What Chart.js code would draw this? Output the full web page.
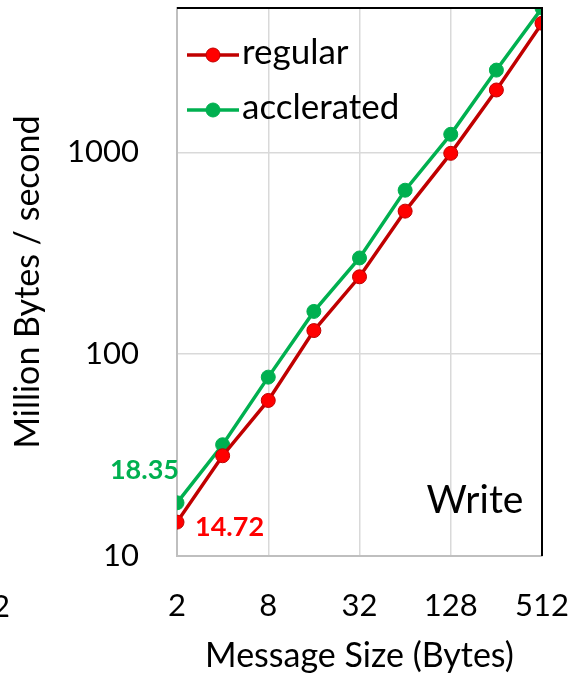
<!DOCTYPE html>
<html>
<head>
<meta charset="utf-8">
<script src="https://cdn.jsdelivr.net/npm/chart.js@4"></script>
<style>
  html, body { margin: 0; padding: 0; background: #fff; }
  #wrap { width: 572px; height: 678px; }
</style>
</head>
<body>
<div id="wrap"><canvas id="myChart" width="572" height="678"></canvas></div>
<script>
const sizes = [2, 4, 8, 16, 32, 64, 128, 256, 512]
const regular = [14.72, 31.4, 59, 131, 242, 512, 990, 2040, 4370]
const accelerated = [18.35, 35.6, 77, 163, 300, 650, 1230, 2560, 5200]
const xTicks = [2, 8, 32, 128, 512]
const yTicks = [10, 100, 1000]

const FONT = "Lato, 'Open Sans', sans-serif"
const ctx = document.getElementById('myChart')

// extra text: legend, data labels, "Write", frame
const extras = {
  id: 'extras',
  afterDatasetsDraw(chart) {
    const c = chart.ctx
    const a = chart.chartArea
    c.save()
    // frame: top and right in black
    c.strokeStyle = '#000'
    c.lineWidth = 2
    c.beginPath()
    c.moveTo(a.left, a.top)
    c.lineTo(a.right, a.top)
    c.lineTo(a.right, a.bottom)
    c.stroke()

    // legend
    const items = [
      { label: 'regular', line: '#C00000', fill: '#FF0000', y: 55 },
      { label: 'acclerated', line: '#00B050', fill: '#00B050', y: 110 }
    ]
    items.forEach(it => {
      c.strokeStyle = it.line
      c.lineWidth = 3.5
      c.beginPath()
      c.moveTo(a.left + 10, it.y)
      c.lineTo(a.left + 62, it.y)
      c.stroke()
      c.fillStyle = it.fill
      c.beginPath()
      c.arc(a.left + 36, it.y, 7, 0, Math.PI * 2)
      c.fill()
      c.lineWidth = 1
      c.stroke()
      c.fillStyle = '#000'
      c.font = "35px " + FONT
      c.textBaseline = 'middle'
      c.textAlign = 'left'
      c.fillText(it.label, a.left + 65, it.y - 2)
    })

    // data labels on first points
    const p0 = chart.getDatasetMeta(0).data[0]
    const p1 = chart.getDatasetMeta(1).data[0]
    c.font = "bold 27px " + FONT
    c.fillStyle = '#FF0000'
    c.textAlign = 'left'
    c.fillText('14.72', p0.x + 18, p0.y + 5)
    c.fillStyle = '#00B050'
    c.textAlign = 'right'
    c.fillText('18.35', p1.x + 2, p1.y - 33)

    // panel name
    c.fillStyle = '#000'
    c.font = "39px " + FONT
    c.textAlign = 'center'
    c.fillText('Write', 475, 500)

    // clipped label from neighbouring panel
    c.font = "31px " + FONT
    c.textAlign = 'left'
    c.fillText('2', -8, 607)
    c.restore()
  }
}

const zeroPad = (s) => { s.paddingTop = 0; s.paddingBottom = 0; s.paddingLeft = 0; s.paddingRight = 0 }

const config = {
  type: 'line',
  data: {
    labels: sizes,
    datasets: [{
      label: 'regular',
      data: regular,
      borderColor: '#C00000',
      backgroundColor: '#FF0000',
      pointBorderColor: '#C00000',
      borderWidth: 3.5,
      pointRadius: 7,
      pointBorderWidth: 1
    }, {
      label: 'acclerated',
      data: accelerated,
      borderColor: '#00B050',
      backgroundColor: '#00B050',
      pointBorderColor: '#00B050',
      borderWidth: 3.5,
      pointRadius: 7,
      pointBorderWidth: 1
    }]
  },
  options: {
    responsive: false,
    animation: false,
    layout: { padding: { top: 7, right: 30, left: 0, bottom: 0 } },
    scales: {
      x: {
        type: 'logarithmic',
        min: 2,
        max: 512,
        afterBuildTicks: (s) => { s.ticks = xTicks.map(v => ({ value: v })) },
        afterFit: (s) => { s.height = 122; zeroPad(s) },
        ticks: {
          color: '#000',
          font: { family: FONT, size: 31 },
          padding: 31,
          maxRotation: 0,
          callback: (v) => String(v)
        },
        grid: { color: '#D9D9D9', lineWidth: 1.5, drawTicks: false },
        border: { color: '#BFBFBF', width: 2 },
        title: {
          display: true,
          text: 'Message Size (Bytes)',
          color: '#000',
          font: { family: FONT, size: 34 },
          padding: { top: 4, bottom: 2 }
        }
      },
      y: {
        type: 'logarithmic',
        min: 10,
        max: 5200,
        afterBuildTicks: (s) => { s.ticks = yTicks.map(v => ({ value: v })) },
        afterFit: (s) => { s.width = 177; zeroPad(s) },
        ticks: {
          color: '#000',
          font: { family: FONT, size: 31 },
          padding: 38,
          callback: (v) => String(v)
        },
        grid: { color: '#D9D9D9', lineWidth: 1.5, drawTicks: false },
        border: { color: '#BFBFBF', width: 2 },
        title: {
          display: true,
          text: 'Million Bytes / second',
          color: '#000',
          font: { family: FONT, size: 34 },
          padding: { top: 8, bottom: 0 }
        }
      }
    },
    plugins: {
      legend: { display: false },
      tooltip: { enabled: false }
    }
  },
  plugins: [extras]
}
const chart = new Chart(ctx, config)
</script>
</body>
</html>
